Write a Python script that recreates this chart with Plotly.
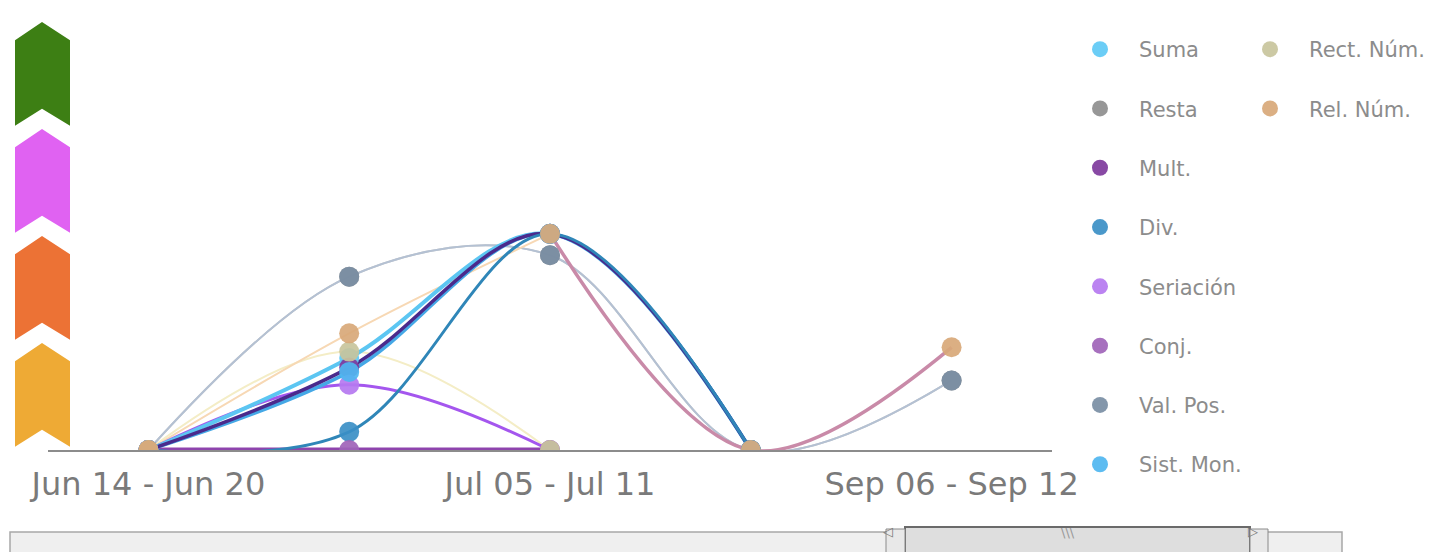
import plotly.graph_objects as go

# ---------------- data ----------------
categories = ["Jun 14 - Jun 20", "Jun 21 - Jun 27", "Jul 05 - Jul 11", "Aug 30 - Sep 05", "Sep 06 - Sep 12"]
tick_labels = ["Jun 14 - Jun 20", "Jul 05 - Jul 11", "Sep 06 - Sep 12"]

suma      = [0, 0.86, 2.02, 0, None]
resta     = [0, 1.62, 1.82, 0, 0.65]
mult      = [0, 0.77, 2.02, 0, None]
div       = [0, 0.17, 2.02, 0, None]
seriacion = [0, 0.61, 0, None, None]
conj      = [0, 0, 0, None, None]
val_pos   = [0, 1.62, 1.82, 0, 0.65]
sist_mon  = [0, 0.73, 2.02, 0, None]
rect_num  = [0, 0.92, 0, None, None]
rel_num   = [0, 1.09, 2.02, 0, 0.96]

level_colors = ["#eeaa35", "#ec7235", "#e062f2", "#3d7f14"]

# ---------------- styling ----------------
series = [
    # name, values, marker color, line color, line width, legend
    ("Suma", suma, "#5ec9f5", "#5cc6f2", 4, "legend"),
    ("Resta", resta, "#8e8e8e", "#c8c8c8", 2, "legend"),
    ("Mult.", mult, "#7e3a9c", "#4a2a8c", 3.5, "legend"),
    ("Div.", div, "#3b8fc6", "#2f86b8", 3, "legend"),
    ("Seriación", seriacion, "#b578f0", "#a456ee", 3, "legend"),
    ("Conj.", conj, "#a064b8", "#8e44ad", 5, "legend"),
    ("Val. Pos.", val_pos, "#7a8ea4", "#b4c1d3", 2, "legend"),
    ("Sist. Mon.", sist_mon, "#4fb6f0", "#45a8e6", 3.5, "legend"),
    ("Rect. Núm.", rect_num, "#c8c49c", "#f4edc6", 2, "legend2"),
    ("Rel. Núm.", rel_num, "#d8a878", "#f7d8b4", 2, "legend2"),
]
line_order = ["Resta", "Val. Pos.", "Rect. Núm.", "Rel. Núm.", "Seriación", "Conj.",
              "Suma", "Sist. Mon.", "Mult.", "Div."]

fig = go.Figure()
lookup = {s[0]: s for s in series}
for name in line_order:
    n, vals, mc, lc, lw, lg = lookup[name]
    xs, ys = (categories[:3], vals[:3]) if name == "Rel. Núm." else (categories, vals)
    fig.add_trace(go.Scatter(x=xs, y=ys, mode="lines", showlegend=False,
                             legendgroup=n, line=dict(color=lc, width=lw, shape="spline", smoothing=1),
                             hoverinfo="skip"))
# mauve tail of Rel. Núm.
fig.add_trace(go.Scatter(x=categories[2:], y=rel_num[2:], mode="lines", showlegend=False,
                         legendgroup="Rel. Núm.",
                         line=dict(color="#c98aa8", width=3.5, shape="spline", smoothing=1),
                         hoverinfo="skip"))

for n, vals, mc, lc, lw, lg in series:
    fig.add_trace(go.Scatter(x=categories, y=vals, mode="markers", name=n, legendgroup=n,
                             legend=lg, marker=dict(size=20, color=mc, opacity=0.92,
                                                    line=dict(width=0))))

# page-pixel -> paper helpers (plot area spans page x 48..1052, y 22..450)
def px_x(p):
    return (p - 48) / 1004.0


def px_y(p):
    return (450 - p) / 428.0


# ---------------- level arrows ----------------
xl, xc, xr = px_x(15), px_x(42), px_x(70)
shapes = []
for k, col in enumerate(level_colors):
    path = (f"M {xl},{k+0.03} L {xl},{k+0.83} L {xc},{k+1.0} L {xr},{k+0.83} "
            f"L {xr},{k+0.03} L {xc},{k+0.19} Z")
    shapes.append(dict(type="path", xref="paper", yref="y", path=path,
                       fillcolor=col, line=dict(width=0), layer="above"))

# ---------------- scrollbar ----------------
shapes.append(dict(type="rect", xref="paper", yref="paper", x0=px_x(10), x1=px_x(1342),
                   y0=px_y(556), y1=px_y(532), fillcolor="#efefef",
                   line=dict(color="#a8a8a8", width=1.5)))
shapes.append(dict(type="rect", xref="paper", yref="paper", x0=px_x(905), x1=px_x(1250),
                   y0=px_y(556), y1=px_y(527), fillcolor="#dedede",
                   line=dict(color="#6a6a6a", width=2)))
for a, b in [(886, 905), (1250, 1268)]:
    shapes.append(dict(type="rect", xref="paper", yref="paper", x0=px_x(a), x1=px_x(b),
                       y0=px_y(556), y1=px_y(529), fillcolor="#e8e8e8",
                       line=dict(color="#8a8a8a", width=1)))

annotations = [
    dict(xref="paper", yref="paper", x=px_x(895), y=px_y(541), text="◁", showarrow=False,
         font=dict(size=13, color="#777")),
    dict(xref="paper", yref="paper", x=px_x(1260), y=px_y(541), text="▷", showarrow=False,
         font=dict(size=13, color="#777")),
    dict(xref="paper", yref="paper", x=px_x(1077), y=px_y(542), text="\\\\\\", showarrow=False,
         font=dict(size=13, color="#999")),
]

legend_common = dict(xanchor="left", yanchor="top",
                     font=dict(family="DejaVu Sans", size=21, color="#8c8c8c"),
                     tracegroupgap=29, itemsizing="trace", itemwidth=68,
                     bgcolor="rgba(0,0,0,0)", maxheight=520)

fig.update_layout(
    width=1434, height=552,
    margin=dict(l=40, r=390, t=14, b=110, autoexpand=False),
    paper_bgcolor="white", plot_bgcolor="white",
    font=dict(family="DejaVu Sans", color="#7a7a7a"),
    xaxis=dict(type="category", range=[-0.5, 4.5], showgrid=False, zeroline=False,
               showline=True, linecolor="#8c8c8c", linewidth=2,
               tickmode="array", tickvals=tick_labels, ticktext=tick_labels,
               ticks="", ticklabelstandoff=5,
               tickfont=dict(family="DejaVu Sans", size=32, color="#7a7a7a")),
    yaxis=dict(range=[0, 4], showgrid=False, zeroline=False, showline=False,
               showticklabels=False, ticks=""),
    legend=dict(x=px_x(1061), y=px_y(29), **legend_common),
    legend2=dict(x=px_x(1231), y=px_y(29), **legend_common),
    shapes=shapes,
    annotations=annotations,
    hovermode=False,
)

fig.write_html("out.html")
